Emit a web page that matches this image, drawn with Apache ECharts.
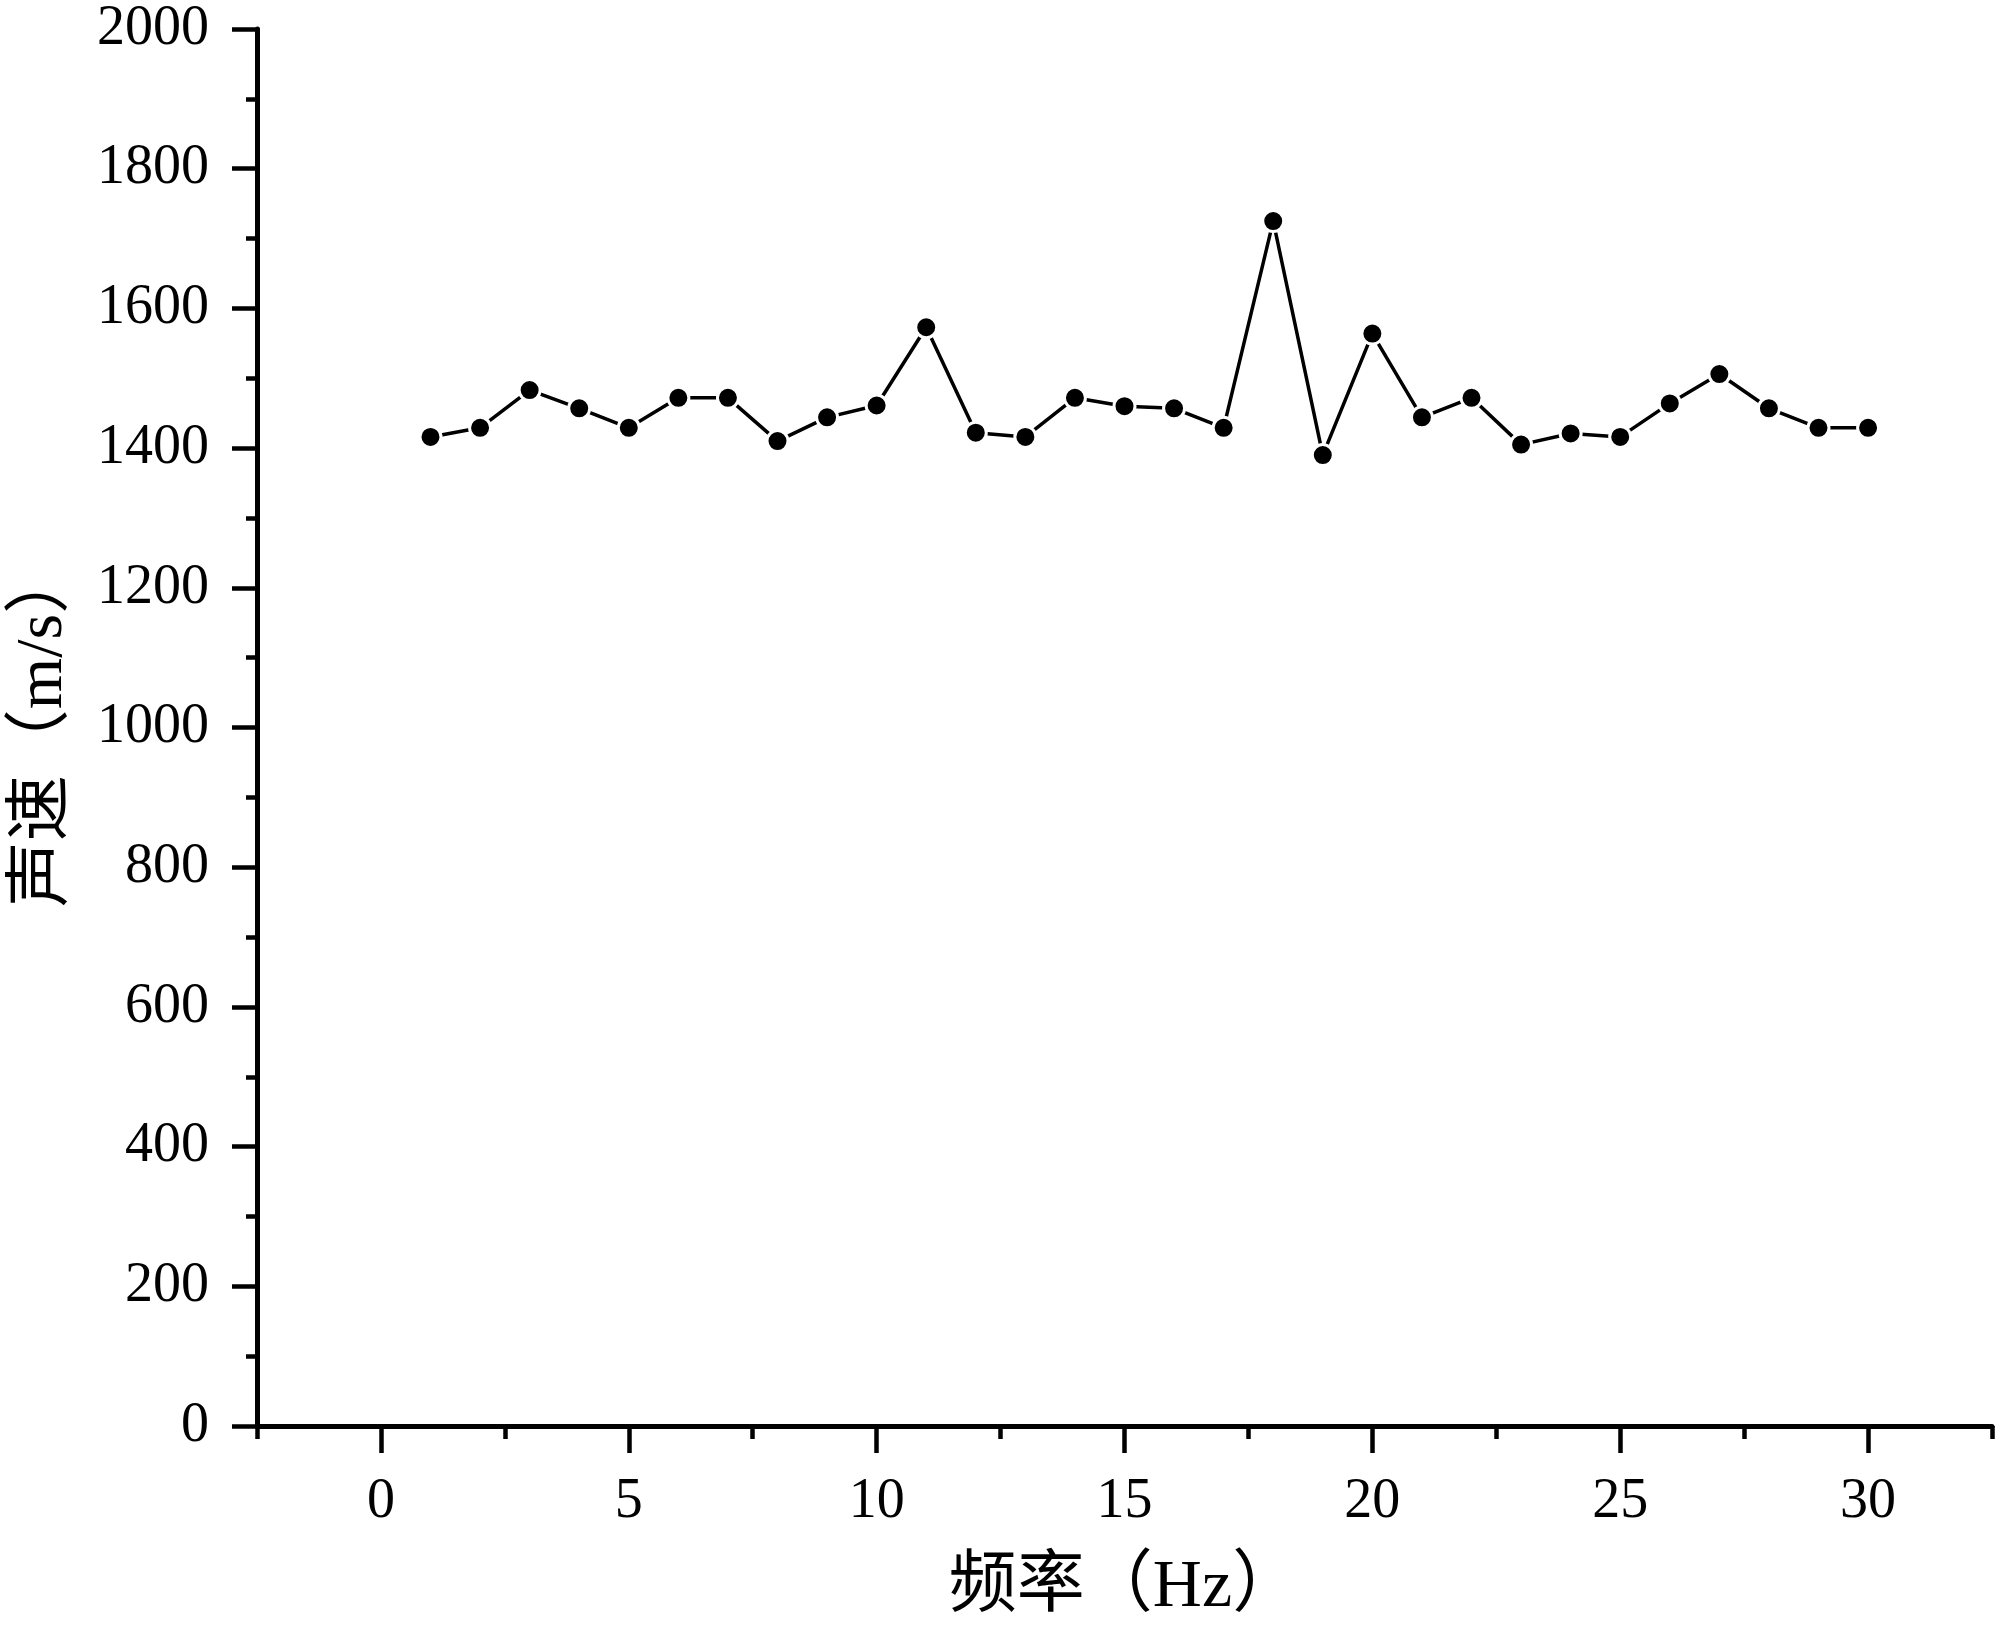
<!DOCTYPE html>
<html>
<head>
<meta charset="utf-8">
<script src="https://cdn.jsdelivr.net/npm/echarts@6/dist/echarts.min.js"></script>
<style>html,body{margin:0;padding:0;background:#fff;}#c{width:2000px;height:1629px;}</style>
</head>
<body>
<div id="c"></div>
<script>
const frequency = [1,2,3,4,5,6,7,8,9,10,11,12,13,14,15,16,17,18,19,20,21,22,23,24,25,26,27,28,29,30];
const soundSpeed = [1416,1429,1483,1457,1429,1472,1472,1410,1444,1461,1573,1422,1416,1472,1460,1457,1429,1725,1390,1564,1444,1472,1405,1421,1416,1464,1506,1457,1429,1429];
const xMajorTicks = [0,5,10,15,20,25,30];
const xMinorTicks = [-2.5,2.5,7.5,12.5,17.5,22.5,27.5,32.5];
const xName = '频率（Hz）';
const yName = '声速（m/s）';

const FONT = '"Liberation Serif", "Noto Sans CJK SC", serif';
const chart = echarts.init(document.getElementById('c'), null, {renderer: 'canvas'});
chart.setOption({
  animation: false,
  backgroundColor: '#fff',
  grid: {left: 257, right: 8, top: 29, bottom: 203, containLabel: false},
  xAxis: [{
    type: 'value', min: -2.5, max: 32.5,
    name: xName, nameLocation: 'middle', nameGap: 128,
    nameTextStyle: {fontFamily: FONT, fontSize: 68, color: '#000'},
    axisLine: {show: true, onZero: false, lineStyle: {color: '#000', width: 5}},
    axisTick: {show: true, inside: false, length: 27, customValues: xMajorTicks, lineStyle: {color: '#000', width: 4.5}},
    axisLabel: {show: true, customValues: xMajorTicks, margin: 48, fontFamily: FONT, fontSize: 56, color: '#000', formatter: v => String(v)},
    splitLine: {show: false}
  }, {
    type: 'value', min: -2.5, max: 32.5, position: 'bottom',
    axisLine: {show: false, onZero: false},
    axisTick: {show: true, inside: false, length: 13, customValues: xMinorTicks, lineStyle: {color: '#000', width: 4.5}},
    axisLabel: {show: false},
    splitLine: {show: false}
  }],
  yAxis: {
    type: 'value', min: 0, max: 2000, interval: 200,
    name: yName, nameLocation: 'middle', nameGap: 180,
    nameTextStyle: {fontFamily: FONT, fontSize: 66, color: '#000'},
    axisLine: {show: true, onZero: false, lineStyle: {color: '#000', width: 5}},
    axisTick: {show: true, inside: false, length: 25, lineStyle: {color: '#000', width: 4.5}},
    minorTick: {show: true, splitNumber: 2, length: 11, lineStyle: {color: '#000', width: 4.5}},
    axisLabel: {margin: 48, fontFamily: FONT, fontSize: 56, color: '#000', formatter: v => String(v)},
    splitLine: {show: false}
  },
  series: [{
    type: 'line', xAxisIndex: 0,
    data: frequency.map((f, i) => [f, soundSpeed[i]]),
    symbol: 'circle', symbolSize: 21,
    lineStyle: {color: '#000', width: 3.5},
    itemStyle: {color: '#000', borderColor: '#fff', borderWidth: 3}
  }]
});
</script>
</body>
</html>
